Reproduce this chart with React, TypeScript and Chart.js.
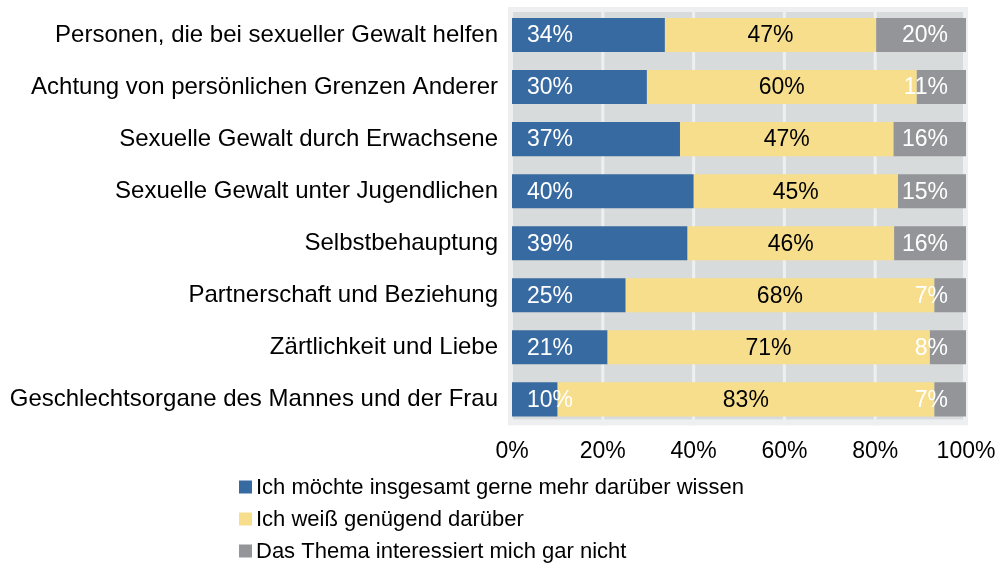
import React, { useEffect, useRef } from "react";
import { Chart, registerables } from "chart.js";

Chart.register(...registerables);

const categories = [
  "Personen, die bei sexueller Gewalt helfen",
  "Achtung von persönlichen Grenzen Anderer",
  "Sexuelle Gewalt durch Erwachsene",
  "Sexuelle Gewalt unter Jugendlichen",
  "Selbstbehauptung",
  "Partnerschaft und Beziehung",
  "Zärtlichkeit und Liebe",
  "Geschlechtsorgane des Mannes und der Frau",
];
const wantMore = [34, 30, 37, 40, 39, 25, 21, 10];
const knowEnough = [47, 60, 47, 45, 46, 68, 71, 83];
const notInterested = [20, 11, 16, 15, 16, 7, 8, 7];
const seriesNames = [
  "Ich möchte insgesamt gerne mehr darüber wissen",
  "Ich weiß genügend darüber",
  "Das Thema interessiert mich gar nicht",
];
const seriesColors = ["#386aa2", "#f7de8d", "#939598"];
const labelColors = ["#ffffff", "#000000", "#ffffff"];

const FONT = "'Liberation Sans', Arial, sans-serif";
const FS = 23;

export default function App() {
  const ref = useRef<HTMLCanvasElement>(null);
  useEffect(() => {
    document.body.style.margin = "0";
    const raw = [wantMore, knowEnough, notInterested];
    const sums = categories.map((_, i) => raw.reduce((s, a) => s + a[i], 0));
    const norm = raw.map((a) => a.map((v, i) => (v / sums[i]) * 100));

    const bgPlugin = {
      id: "bgPlugin",
      beforeDatasetsDraw(chart: any) {
        const { ctx, chartArea: ca, scales } = chart;
        ctx.save();
        ctx.fillStyle = "#eeeff0";
        ctx.fillRect(ca.left - 4, ca.top - 2, ca.right - ca.left + 6, ca.bottom - ca.top + 2);
        ctx.fillStyle = "#d8dbdc";
        ctx.fillRect(ca.left + 1, ca.top + 3, ca.right - ca.left - 4, ca.bottom - ca.top - 9);
        ctx.fillStyle = "#eeeff0";
        [20, 40, 60, 80].forEach((t) => {
          const x = scales.x.getPixelForValue(t);
          ctx.fillRect(x - 1.5, ca.top, 3, ca.bottom - ca.top);
        });
        ctx.restore();
      },
    };

    const labelPlugin = {
      id: "labelPlugin",
      afterDatasetsDraw(chart: any) {
        const { ctx } = chart;
        ctx.save();
        ctx.font = `${FS}px ${FONT}`;
        ctx.textBaseline = "middle";
        raw.forEach((arr, di) => {
          const meta = chart.getDatasetMeta(di);
          meta.data.forEach((el: any, i: number) => {
            const txt = arr[i] + "%";
            ctx.fillStyle = labelColors[di];
            const left = Math.min(el.x, el.base);
            const right = Math.max(el.x, el.base);
            if (di === 0) {
              ctx.textAlign = "left";
              ctx.fillText(txt, left + 15, el.y + 1);
            } else if (di === 1) {
              ctx.textAlign = "center";
              ctx.fillText(txt, (left + right) / 2, el.y + 1);
            } else {
              ctx.textAlign = "right";
              ctx.fillText(txt, right - 18, el.y + 1);
            }
          });
        });
        ctx.restore();
      },
    };

    const legendPlugin = {
      id: "legendPlugin",
      afterDraw(chart: any) {
        const { ctx } = chart;
        ctx.save();
        ctx.font = `22px ${FONT}`;
        ctx.textBaseline = "middle";
        ctx.textAlign = "left";
        seriesNames.forEach((name, i) => {
          const cy = 487 + i * 32;
          ctx.fillStyle = seriesColors[i];
          ctx.fillRect(239, cy - 6.5, 13, 13);
          ctx.fillStyle = "#000000";
          ctx.fillText(name, 256, cy + 1);
        });
        ctx.restore();
      },
    };

    const chart = new Chart(ref.current!, {
      type: "bar",
      data: {
        labels: categories,
        datasets: norm.map((d, i) => ({
          label: seriesNames[i],
          data: d,
          backgroundColor: seriesColors[i],
          borderWidth: 0,
          barPercentage: 0.654,
          categoryPercentage: 1,
        })),
      },
      options: {
        indexAxis: "y",
        animation: false,
        responsive: false,
        layout: { padding: { top: 9, right: 32, bottom: 87, left: 0 } },
        plugins: { legend: { display: false }, tooltip: { enabled: false } },
        scales: {
          x: {
            stacked: true,
            min: 0,
            max: 100,
            grid: { display: false, drawTicks: false },
            border: { display: false },
            afterFit: (s: any) => {
              s.paddingLeft = 0;
              s.paddingRight = 0;
            },
            ticks: {
              stepSize: 20,
              padding: 12,
              color: "#000",
              font: { family: FONT, size: FS },
              callback: (v: any) => v + "%",
              maxRotation: 0,
            },
          },
          y: {
            stacked: true,
            grid: { display: false, drawTicks: false },
            border: { display: false },
            afterFit: (s: any) => {
              s.width = 512;
              s.paddingTop = 0;
              s.paddingBottom = 0;
            },
            ticks: {
              padding: 14,
              color: "#000",
              font: { family: FONT, size: 24 },
            },
          },
        },
      },
      plugins: [bgPlugin, labelPlugin, legendPlugin],
    } as any);
    return () => chart.destroy();
  }, []);
  return (
    <canvas ref={ref} width={998} height={564} style={{ display: "block", width: 998, height: 564 }} />
  );
}
